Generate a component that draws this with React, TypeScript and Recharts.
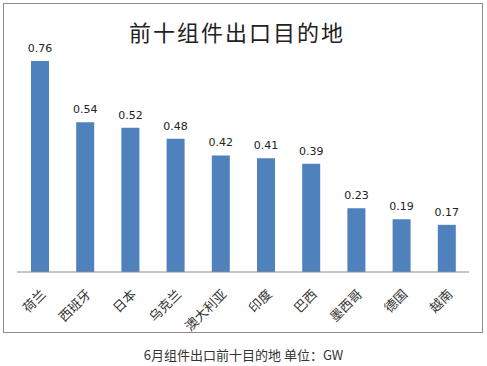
import { Bar, BarChart, LabelList, XAxis, YAxis } from "recharts";

const countries = ["荷兰", "西班牙", "日本", "乌克兰", "澳大利亚", "印度", "巴西", "墨西哥", "德国", "越南"];
const exportsGW = [0.76, 0.54, 0.52, 0.48, 0.42, 0.41, 0.39, 0.23, 0.19, 0.17];

const data = countries.map((name, i) => ({ name, value: exportsGW[i] }));

const cjk = '"Noto Sans CJK SC", sans-serif';

function RotatedTick(props: any) {
  const { x, y, payload } = props;
  const ax = x + 7;
  const ay = y + 15;
  return (
    <text
      x={ax}
      y={ay}
      transform={`rotate(-45, ${ax}, ${ay})`}
      textAnchor="end"
      fontSize={13}
      fontFamily={cjk}
      fill="#333"
    >
      {payload.value}
    </text>
  );
}

export default function App() {
  return (
    <div style={{ position: "absolute", left: 0, top: 0, width: 487, height: 366, background: "#fff" }}>
      <div
        style={{
          position: "absolute",
          left: 3,
          top: 3,
          width: 478,
          height: 328,
          border: "1px solid #8c8c8c",
        }}
      />
      <div
        style={{
          position: "absolute",
          left: 0,
          top: 16,
          width: 474,
          textAlign: "center",
          fontFamily: cjk,
          fontSize: 22,
          letterSpacing: 2,
          color: "#222",
          lineHeight: "30px",
        }}
      >
        前十组件出口目的地
      </div>
      <div style={{ position: "absolute", left: 0, top: 0 }}>
        <BarChart width={487} height={366} data={data} margin={{ top: 50, right: 18, left: 17, bottom: 34 }}>
          <XAxis
            dataKey="name"
            interval={0}
            tickLine={false}
            stroke="#8c8c8c"
            height={60}
            tick={<RotatedTick />}
          />
          <YAxis hide domain={[0, 0.8]} />
          <Bar dataKey="value" fill="#4f81bd" barSize={18} isAnimationActive={false}>
            <LabelList
              dataKey="value"
              position="top"
              offset={9}
              fontSize={11}
              fontFamily="DejaVu Sans"
              fill="#222"
              formatter={(v: any) => Number(v).toFixed(2)}
            />
          </Bar>
        </BarChart>
      </div>
      <div
        style={{
          position: "absolute",
          left: 0,
          top: 346,
          width: 487,
          textAlign: "center",
          fontFamily: cjk,
          fontSize: 13,
          color: "#333",
          lineHeight: "18px",
        }}
      >
        6月组件出口前十目的地 单位：GW
      </div>
    </div>
  );
}
